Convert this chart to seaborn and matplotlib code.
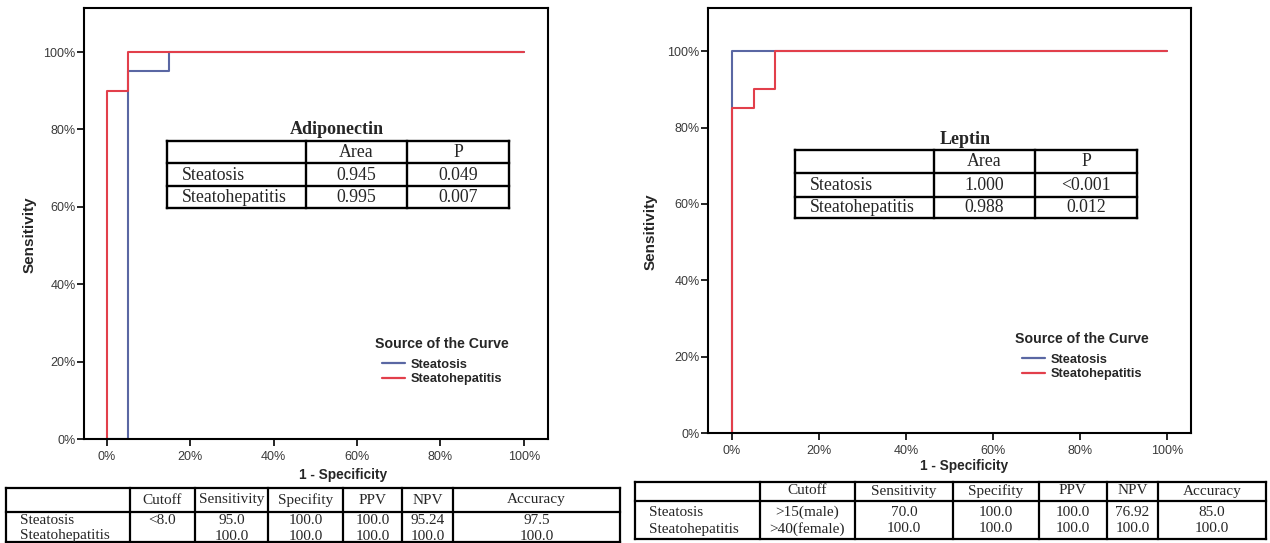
import numpy as np
import pandas as pd
import matplotlib
matplotlib.use("Agg")
import matplotlib.pyplot as plt
import seaborn as sns

# ---------------- data ----------------
curves = ["Steatosis", "Steatohepatitis"]

# Adiponectin ROC vertices (1 - specificity, sensitivity)
adipo_steatosis_fpr = [0.0, 0.05, 0.05, 0.15, 0.15, 1.0]
adipo_steatosis_tpr = [0.0, 0.0, 0.95, 0.95, 1.0, 1.0]
adipo_steatohep_fpr = [0.0, 0.0, 0.05, 0.05, 1.0]
adipo_steatohep_tpr = [0.0, 0.90, 0.90, 1.0, 1.0]

# Leptin ROC vertices
leptin_steatosis_fpr = [0.0, 0.0, 1.0]
leptin_steatosis_tpr = [0.0, 1.0, 1.0]
leptin_steatohep_fpr = [0.0, 0.0, 0.05, 0.05, 0.10, 0.10, 1.0]
leptin_steatohep_tpr = [0.0, 0.85, 0.85, 0.90, 0.90, 1.0, 1.0]

tick_vals = [0.0, 0.2, 0.4, 0.6, 0.8, 1.0]
tick_labels = ["0%", "20%", "40%", "60%", "80%", "100%"]

auc_header = ["", "Area", "P"]
adipo_auc = [["Steatosis", "0.945", "0.049"], ["Steatohepatitis", "0.995", "0.007"]]
leptin_auc = [["Steatosis", "1.000", "<0.001"], ["Steatohepatitis", "0.988", "0.012"]]

perf_header = ["", "Cutoff", "Sensitivity", "Specifity", "PPV", "NPV", "Accuracy"]
adipo_perf = [["Steatosis", "<8.0", "95.0", "100.0", "100.0", "95.24", "97.5"],
              ["Steatohepatitis", "", "100.0", "100.0", "100.0", "100.0", "100.0"]]
leptin_perf = [["Steatosis", ">15(male)", "70.0", "100.0", "100.0", "76.92", "85.0"],
               ["Steatohepatitis", ">40(female)", "100.0", "100.0", "100.0", "100.0", "100.0"]]

# ---------------- style ----------------
sns.set_theme(style="white")
plt.rcParams["font.family"] = ["Liberation Sans", "DejaVu Sans"]
BLUE = "#5a67a3"
RED = "#e23f4b"
palette = {"Steatosis": BLUE, "Steatohepatitis": RED}
SERIF = ["Liberation Serif", "DejaVu Serif"]

W, H = 1270, 543
fig = plt.figure(figsize=(W / 100, H / 100), dpi=100)


def px_axes(x0, x1, y0, y1):
    return fig.add_axes([x0 / W, 1 - y1 / H, (x1 - x0) / W, (y1 - y0) / H])


def make_df(fa, ta, fb, tb):
    return pd.DataFrame({
        "fpr": list(fa) + list(fb),
        "tpr": list(ta) + list(tb),
        "curve": [curves[0]] * len(fa) + [curves[1]] * len(fb),
    })


def draw_roc(box, xlim, ylim, df, leg_center):
    ax = px_axes(*box)
    sns.lineplot(data=df, x="fpr", y="tpr", hue="curve", hue_order=curves,
                 palette=palette, sort=False, estimator=None, ax=ax,
                 linewidth=1.5)
    ax.set_xlim(*xlim)
    ax.set_ylim(*ylim)
    ax.set_xticks(tick_vals)
    ax.set_xticklabels(tick_labels)
    ax.set_yticks(tick_vals)
    ax.set_yticklabels(tick_labels)
    ax.tick_params(axis="both", which="both", direction="out", length=5,
                   width=1.2, color="black", labelsize=9, labelcolor="#3a3a3a")
    ax.tick_params(axis="y", pad=1)
    ax.tick_params(axis="x", pad=3.5)
    ax.xaxis.set_ticks_position("bottom")
    ax.yaxis.set_ticks_position("left")
    for sp in ax.spines.values():
        sp.set_visible(True)
        sp.set_color("black")
        sp.set_linewidth(1.5)
    ax.set_xlabel("")
    ax.set_ylabel("")
    handles, labels = ax.get_legend_handles_labels()
    leg = ax.legend(handles, labels, title="Source of the Curve", loc="center",
                    bbox_to_anchor=(leg_center[0] / W, 1 - leg_center[1] / H),
                    bbox_transform=fig.transFigure, frameon=False,
                    prop={"weight": "bold", "size": 9.2},
                    title_fontproperties={"weight": "bold", "size": 10.2},
                    handlelength=1.8, handletextpad=0.4, labelspacing=0.2,
                    borderpad=0.2)
    leg._legend_box.sep = 6
    for lh in leg.get_lines():
        lh.set_linewidth(1.6)
    return ax


# Left: Adiponectin
draw_roc((84, 548, 8, 439), (-0.055, 1.058), (0.0, 1.114),
         make_df(adipo_steatosis_fpr, adipo_steatosis_tpr,
                 adipo_steatohep_fpr, adipo_steatohep_tpr),
         (442, 361))
# Right: Leptin
draw_roc((708, 1191, 8, 433), (-0.055, 1.055), (0.0, 1.113),
         make_df(leptin_steatosis_fpr, leptin_steatosis_tpr,
                 leptin_steatohep_fpr, leptin_steatohep_tpr),
         (1082, 356))

# ---------------- overlay (labels, tables) ----------------
ov = fig.add_axes([0, 0, 1, 1], zorder=10)
ov.set_xlim(0, W)
ov.set_ylim(H, 0)
ov.axis("off")
ov.patch.set_alpha(0)

# axis titles
ov.text(30, 235, "Sensitivity", rotation=90, ha="center", va="center",
        fontsize=11, fontweight="bold")
ov.text(651, 232, "Sensitivity", rotation=90, ha="center", va="center",
        fontsize=11, fontweight="bold")
ov.text(343, 475, "1 - Specificity", ha="center", va="center",
        fontsize=9.8, fontweight="bold")
ov.text(964, 466, "1 - Specificity", ha="center", va="center",
        fontsize=9.8, fontweight="bold")


def grid_table(title, title_xy, cols, rows_y, header, body, fs=12.8):
    ov.text(title_xy[0], title_xy[1], title, ha="center", va="center",
            fontsize=13, fontweight="bold", family=SERIF)
    lw = 1.7
    for y in rows_y:
        ov.plot([cols[0], cols[-1]], [y, y], color="black", lw=lw,
                solid_capstyle="projecting")
    for x in cols:
        ov.plot([x, x], [rows_y[0], rows_y[-1]], color="black", lw=lw,
                solid_capstyle="projecting")
    all_rows = [header] + body
    for r, row in enumerate(all_rows):
        yc = (rows_y[r] + rows_y[r + 1]) / 2 + 0.5
        for c, txt in enumerate(row):
            if c == 0:
                ov.text(cols[0] + 15, yc, txt, ha="left", va="center",
                        fontsize=fs, family=SERIF)
            else:
                ov.text((cols[c] + cols[c + 1]) / 2, yc, txt, ha="center",
                        va="center", fontsize=fs, family=SERIF)


grid_table("Adiponectin", (337, 130), [167, 306, 407, 509],
           [141, 163, 186, 208], auc_header, adipo_auc)
grid_table("Leptin", (965, 140), [795, 934, 1035, 1137],
           [150, 173, 197, 218], auc_header, leptin_auc)


def perf_table(cols, top, hdr_bot, bottom, text_ys, header, body, fs=11):
    lw = 1.6
    for y in (top, hdr_bot, bottom):
        ov.plot([cols[0], cols[-1]], [y, y], color="black", lw=lw,
                solid_capstyle="projecting")
    for x in cols:
        ov.plot([x, x], [top, bottom], color="black", lw=lw,
                solid_capstyle="projecting")
    all_rows = [header] + body
    for r, row in enumerate(all_rows):
        yc = text_ys[r]
        for c, txt in enumerate(row):
            if c == 0:
                ov.text(cols[0] + 14, yc, txt, ha="left", va="center",
                        fontsize=fs, family=SERIF)
            else:
                ov.text((cols[c] + cols[c + 1]) / 2, yc, txt, ha="center",
                        va="center", fontsize=fs, family=SERIF)


perf_table([6, 130, 195, 268, 343, 402, 453, 620], 488, 512, 542,
           [500, 521, 536], perf_header, adipo_perf)
perf_table([635, 760, 855, 953, 1039, 1107, 1158, 1266], 482, 501, 539,
           [491, 512, 529], perf_header, leptin_perf)

fig.savefig("out.png", dpi=100, facecolor="white")
